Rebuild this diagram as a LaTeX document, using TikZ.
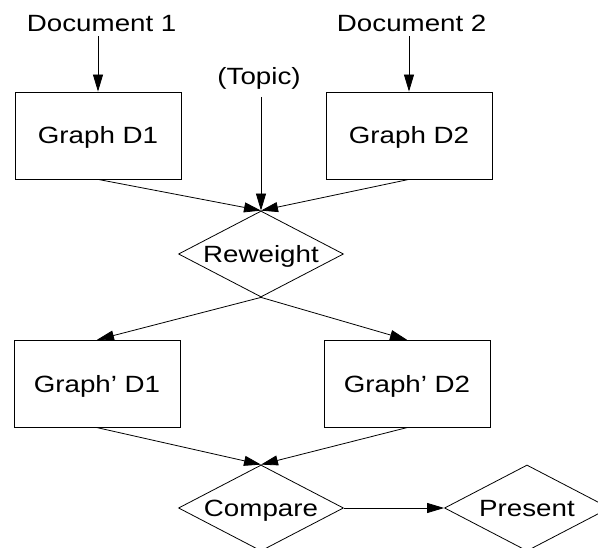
\documentclass[tikz,border=0pt]{standalone}
\usepackage{fontspec}
\setmainfont[FakeStretch=1.18]{Liberation Sans}
\usetikzlibrary{positioning}
\usetikzlibrary{shapes.geometric}
\usetikzlibrary{arrows.meta}

\tikzset{
  txt/.style={inner sep=4pt},
  box/.style={draw, rectangle, minimum width=166pt, minimum height=87pt, inner sep=0pt},
  choice/.style={draw, diamond, aspect=1.92, minimum width=165pt, minimum height=86pt, inner sep=0pt},
  flow/.style={-{Triangle[length=17pt,width=10pt]}}
}

\begin{document}
\begin{tikzpicture}[x=1pt, y=-1pt, line width=0.8pt,
  every node/.style={font=\fontsize{23.5}{27}\selectfont, text height=16.8pt, text depth=0pt}]
\useasboundingbox (0,0) rectangle (598,548);

% inputs
\node[txt, anchor=base] (doc1) at (101.7,31.7) {Document 1};
\node[txt, anchor=base] (doc2) at (411.7,31.7) {Document 2};
\node[txt, anchor=base] (topic) at (259,85) {(Topic)};

% graphs and steps
\node[box] (g1) at (98,135.5) {Graph D1};
\node[box] (g2) at (409,135.5) {Graph D2};
\node[choice] (rw) at (261,254) {Reweight};
\node[box] (g1p) at (97,383.7) {Graph’ D1};
\node[box] (g2p) at (407,383.7) {Graph’ D2};
\node[choice] (cmp) at (261,508) {Compare};
\node[choice] (pres) at (527,508) {Present};

\draw[flow] (doc1.south -| g1.north) -- (g1.north);
\draw[flow] (doc2.south -| g2.north) -- (g2.north);
\draw[flow] ([yshift=-12pt]topic.base -| rw.north) -- (rw.north);

\draw[flow] (g1.south) -- (rw.north);
\draw[flow] (g2.south) -- (rw.north);
\draw[flow] (rw.south) -- (g1p.north);
\draw[flow] (rw.south) -- (g2p.north);

\draw[flow] (g1p.south) -- (cmp.north);
\draw[flow] (g2p.south) -- (cmp.north);
\draw[flow] (cmp.east) -- (pres.west);

\end{tikzpicture}
\end{document}
